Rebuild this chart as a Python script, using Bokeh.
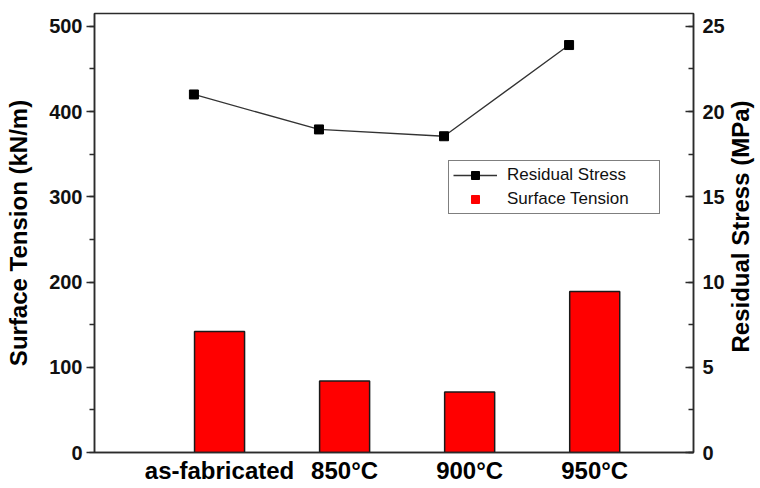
import math
from bokeh.plotting import figure
from bokeh.models import (Range1d, LinearAxis, FixedTicker, SingleIntervalTicker,
                          ColumnDataSource, Legend, LegendItem, Label)
from bokeh.embed import file_html
from bokeh.resources import INLINE

categories = ["as-fabricated", "850\u00b0C", "900\u00b0C", "950\u00b0C"]
surface_tension = [142, 84, 71, 189]          # kN/m, left axis
residual_stress = [21.0, 18.95, 18.55, 23.9]  # MPa, right axis

pos = [i + 1 for i in range(len(categories))]
line_pos = [x - 0.205 for x in pos]

FONT = "Liberation Sans"
DARK = "#2b2b2b"

p = figure(width=758, height=486, output_backend="svg", toolbar_location=None,
           x_range=Range1d(0, 4.79), y_range=Range1d(0, 515),
           min_border_left=94, min_border_right=65, min_border_top=13, min_border_bottom=34)
p.extra_y_ranges = {"rs": Range1d(0, 25.75)}
p.xgrid.visible = False
p.ygrid.visible = False
p.outline_line_color = DARK
p.outline_line_width = 1.5
p.outline_line_alpha = 1.0

# legend swatch for Surface Tension (small red square, hidden behind the bars)
sq_src = ColumnDataSource(dict(x=pos, y=[v / 2 for v in surface_tension]))
leg_sq = p.scatter(x="x", y="y", source=sq_src, marker="square", size=9,
                   fill_color="#ff0000", line_color="#ff0000")

bar_src = ColumnDataSource(dict(x=pos, top=surface_tension))
bars = p.vbar(x="x", top="top", width=0.4, bottom=0, source=bar_src,
              fill_color="#ff0000", line_color="#1a1a1a", line_width=1.5)

line_src = ColumnDataSource(dict(x=line_pos, y=residual_stress))
ln = p.line(x="x", y="y", source=line_src, y_range_name="rs", line_color="#333333", line_width=1.3)
mk = p.scatter(x="x", y="y", source=line_src, y_range_name="rs", marker="square",
               size=9, fill_color="black", line_color="black")

# x axis
xa = p.xaxis[0]
xa.ticker = FixedTicker(ticks=pos)
xa.major_label_overrides = {p_: c for p_, c in zip(pos, categories)}
xa.major_tick_line_color = None
xa.minor_tick_line_color = None
xa.major_tick_out = 0
xa.major_tick_in = 0
xa.major_label_standoff = 4
xa.major_label_text_font = FONT
xa.major_label_text_font_style = "bold"
xa.major_label_text_font_size = "24px"
xa.major_label_text_color = "black"
xa.axis_line_color = DARK
xa.axis_line_width = 1.5

# left axis
ya = p.yaxis[0]
ya.ticker = SingleIntervalTicker(interval=100, num_minor_ticks=2)
ya.axis_label = "Surface Tension (kN/m)"
ya.axis_label_text_font = FONT
ya.axis_label_text_font_style = "bold"
ya.axis_label_text_font_size = "24px"
ya.axis_label_text_color = "black"
ya.axis_label_standoff = 14
ya.major_label_text_font = FONT
ya.major_label_text_font_style = "bold"
ya.major_label_text_font_size = "20px"
ya.major_label_text_color = "#111111"
ya.major_label_standoff = 4
ya.major_tick_out = 8
ya.major_tick_in = 0
ya.minor_tick_out = 5
ya.minor_tick_in = 0
ya.axis_line_color = DARK
ya.axis_line_width = 1.5
ya.major_tick_line_color = DARK
ya.major_tick_line_width = 1.5
ya.minor_tick_line_color = DARK
ya.minor_tick_line_width = 1.5

# right axis
ra = LinearAxis(y_range_name="rs", ticker=SingleIntervalTicker(interval=5, num_minor_ticks=2))
ra.major_label_text_font = FONT
ra.major_label_text_font_style = "bold"
ra.major_label_text_font_size = "20px"
ra.major_label_text_color = "#111111"
ra.major_label_standoff = 9
ra.major_tick_out = 0
ra.major_tick_in = 8
ra.minor_tick_out = 0
ra.minor_tick_in = 5
ra.axis_line_color = DARK
ra.axis_line_width = 1.5
ra.major_tick_line_color = DARK
ra.major_tick_line_width = 1.5
ra.minor_tick_line_color = DARK
ra.minor_tick_line_width = 1.5
p.add_layout(ra, "right")

# right axis title, reading bottom-to-top as in the reference
rlabel = Label(x=13, y=226, x_units="screen", y_units="screen",
               text="Residual Stress (MPa)", angle=math.pi / 2,
               text_align="center", text_baseline="middle",
               text_font=FONT, text_font_style="bold", text_font_size="24px",
               text_color="black")
p.add_layout(rlabel, "right")

legend = Legend(items=[LegendItem(label="Residual Stress", renderers=[ln, mk]),
                       LegendItem(label="Surface Tension", renderers=[leg_sq])],
                location=(354, 238))
legend.border_line_color = "black"
legend.border_line_width = 1.2
legend.background_fill_alpha = 1.0
legend.padding = 4
legend.margin = 0
legend.spacing = 4
legend.glyph_width = 44
legend.glyph_height = 20
legend.label_height = 20
legend.label_width = 148
legend.label_standoff = 10
legend.label_text_font = FONT
legend.label_text_font_size = "17px"
legend.label_text_color = "#111111"
p.add_layout(legend, "center")

open("out.html", "w").write(file_html(p, INLINE))
